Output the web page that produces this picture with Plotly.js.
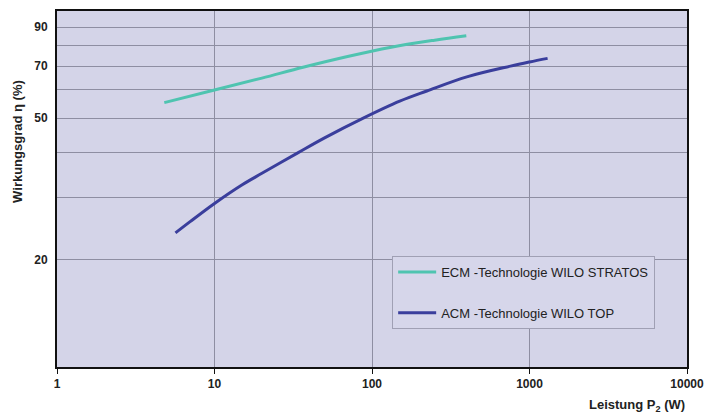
<!DOCTYPE html>
<html><head><meta charset="utf-8">
<script src="https://cdn.plot.ly/plotly-3.0.1.min.js"></script>
<style>body{margin:0;background:#fff}#c{width:706px;height:416px}</style>
</head><body><div id="c"></div>
<script>
const ecmName = "ECM -Technologie WILO STRATOS";
const ecmP = [4.8, 10, 20, 36.5, 70, 130, 250, 397];
const ecmEta = [55.3, 60, 64.8, 69.5, 74.5, 79, 82.8, 85.2];
const acmName = "ACM -Technologie WILO TOP";
const acmP = [5.65, 7, 10, 15, 20, 34, 50, 88, 150, 223, 400, 757, 1000, 1303];
const acmEta = [23.8, 25.6, 28.8, 32.5, 35.0, 40, 44, 50, 55.8, 59.6, 65.3, 70, 71.9, 73.6];
const xTicks = [1, 10, 100, 1000, 10000];
const xTickText = ["1", "10", "100", "1000", "10000"];
const yTicks = [20, 50, 70, 90];
const yGrid = [30, 40, 60, 80];

const F = "Liberation Sans, Arial, sans-serif";
const data = [
  {x: ecmP, y: ecmEta, name: ecmName, mode: "lines", type: "scatter",
   line: {color: "#4fc4b0", width: 3, shape: "spline"}, legendgroup: "a"},
  {x: acmP, y: acmEta, name: acmName, mode: "lines", type: "scatter",
   line: {color: "#3a3e9c", width: 3, shape: "spline"}, legendgroup: "b"}
];
const layout = {
  width: 706, height: 416,
  margin: {l: 57, r: 19, t: 11, b: 49},
  paper_bgcolor: "#ffffff", plot_bgcolor: "#d4d4e8",
  font: {family: F, size: 12, color: "#222"},
  showlegend: true,
  legend: {x: 0.532, y: 0.312, xanchor: "left", yanchor: "top",
    bgcolor: "#d6d6ea", bordercolor: "#a0a0b4", borderwidth: 1,
    font: {family: F, size: 13, color: "#222"}, tracegroupgap: 21,
    traceorder: "grouped", itemwidth: 38, entrywidth: 228},
  xaxis: {type: "log", range: [0, 4], tickvals: xTicks, ticktext: xTickText,
    showgrid: true, gridcolor: "#8e8ea2", gridwidth: 1,
    showline: true, linecolor: "#111", linewidth: 2, mirror: true,
    ticks: "outside", ticklen: 5, tickcolor: "#111",
    tickfont: {family: F, size: 12, color: "#222", weight: "bold"}, zeroline: false},
  yaxis: {type: "log", range: [1, 2], tickvals: yTicks,
    showgrid: true, gridcolor: "#8e8ea2", gridwidth: 1,
    minor: {tickvals: yGrid, showgrid: true, gridcolor: "#8e8ea2", gridwidth: 1, ticks: ""},
    showline: true, linecolor: "#111", linewidth: 2, mirror: true,
    ticks: "", ticklabelstandoff: 5,
    tickfont: {family: F, size: 12, color: "#222", weight: "bold"}, zeroline: false},
  annotations: [
    {text: "Leistung P<sub>2</sub> (W)", xref: "paper", yref: "paper", x: 1.0, y: -0.107,
     xanchor: "right", yanchor: "middle", showarrow: false,
     font: {family: F, size: 13, color: "#222", weight: "bold"}},
    {text: "Wirkungsgrad η (%)", xref: "paper", yref: "paper", x: -0.062, y: 0.635,
     xanchor: "center", yanchor: "middle", textangle: -90, showarrow: false,
     font: {family: F, size: 13, color: "#222", weight: "bold"}}
  ]
};
Plotly.newPlot("c", data, layout, {displayModeBar: false, staticPlot: true});
</script></body></html>
